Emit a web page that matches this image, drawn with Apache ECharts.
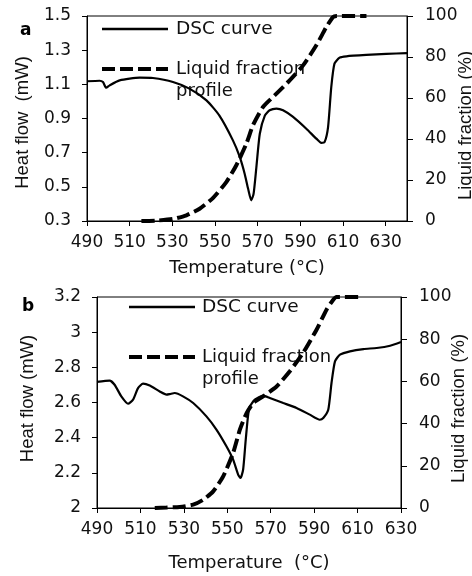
<!DOCTYPE html>
<html>
<head>
<meta charset="utf-8">
<script src="https://cdn.jsdelivr.net/npm/echarts@6/dist/echarts.min.js"></script>
<style>
  html, body { margin: 0; padding: 0; background: #fff; }
  #chart { width: 472px; height: 576px; }
</style>
</head>
<body>
<div id="chart"></div>
<script>
// ---------- Panel a ----------
const dscA_T  = [490, 495.9, 497.5, 499, 500.6, 505.3, 514.7, 520.9, 530.3, 538, 546, 552, 558.4, 561.6, 563.9, 565.5, 567, 568.1, 569.4, 571, 573.4, 575.6, 578.8, 581.9, 586.6, 592.8, 597.5, 599.8, 601.4, 603, 604.5, 606, 608.4, 611.6, 620.9, 630.3, 640];
const dscA_HF = [1.118, 1.121, 1.113, 1.08, 1.094, 1.123, 1.139, 1.137, 1.114, 1.075, 1.006, 0.918, 0.772, 0.675, 0.577, 0.49, 0.421, 0.46, 0.616, 0.811, 0.918, 0.948, 0.958, 0.948, 0.909, 0.84, 0.782, 0.757, 0.763, 0.85, 1.084, 1.221, 1.256, 1.264, 1.272, 1.278, 1.283];
const lfA_T   = [515.5, 522.5, 530.3, 536.6, 542.8, 549, 555.3, 560, 564.7, 567.8, 572.5, 578.8, 585, 591.3, 597.5, 602.2, 605.3, 607, 621];
const lfA_P   = [0, 0.2, 1, 2.8, 6, 11.2, 19, 27.2, 37.7, 46.7, 55.6, 62.1, 68.6, 75.9, 85.7, 94.6, 99.5, 100, 100];
const xTicksA  = [490, 510, 530, 550, 570, 590, 610, 630];
const yTicksA  = [0.3, 0.5, 0.7, 0.9, 1.1, 1.3, 1.5];

// ---------- Panel b ----------
const dscB_T  = [490, 495.8, 498.1, 501.2, 504.3, 506.6, 508.9, 511.2, 514.3, 518.9, 522, 523.5, 525.8, 529.6, 534.3, 540.4, 545, 549.6, 552.7, 555, 556.1, 557.3, 558.5, 560.1, 562.7, 566.5, 569.6, 575.8, 581.9, 588, 592.6, 594.2, 596.5, 598, 599.6, 601.9, 606.5, 612.7, 618.8, 625, 630];
const dscB_HF = [2.717, 2.724, 2.701, 2.635, 2.593, 2.616, 2.682, 2.707, 2.696, 2.663, 2.645, 2.648, 2.654, 2.635, 2.597, 2.521, 2.446, 2.351, 2.275, 2.19, 2.171, 2.219, 2.389, 2.569, 2.616, 2.639, 2.626, 2.597, 2.569, 2.531, 2.502, 2.512, 2.559, 2.711, 2.834, 2.872, 2.891, 2.904, 2.91, 2.923, 2.944];
const lfB_T   = [516.6, 522, 528.1, 534.3, 538.9, 543.5, 548.1, 552.7, 555.8, 558.9, 562, 566.5, 572.7, 578.8, 584.9, 591.1, 595.7, 598.8, 600.3, 611.1];
const lfB_P   = [0, 0.2, 0.5, 1.6, 3.9, 7.9, 15, 26.1, 37.1, 45, 49.8, 52.9, 57.6, 64.8, 73.5, 84.5, 94, 98.7, 100, 100];
const xTicksB  = [490, 510, 530, 550, 570, 590, 610, 630];
const yTicksB  = [2, 2.2, 2.4, 2.6, 2.8, 3, 3.2];

const rightTicks = [0, 20, 40, 60, 80, 100];

const legendSolid = 'DSC curve';
const legendDashed = 'Liquid fraction\nprofile';

const zip = (a, b) => a.map((v, i) => [v, b[i]]);

const HFONT = 'DejaVu Sans';
const VFONT = 'Liberation Sans';
const INK = '#111';

function xAxis(gridIndex, min, max, ticks, name, gap) {
  return {
    type: 'value', gridIndex, min, max, name, nameLocation: 'middle', nameGap: gap, nameMoveOverlap: false,
    nameTextStyle: { fontFamily: HFONT, fontSize: 18, color: INK },
    axisLine: { show: true, lineStyle: { color: '#000', width: 1 } },
    axisTick: { show: true, inside: false, length: 5, lineStyle: { color: '#000' }, customValues: ticks },
    axisLabel: { fontFamily: HFONT, fontSize: 17, color: INK, margin: 13, customValues: ticks },
    splitLine: { show: false }
  };
}
function yLeft(gridIndex, min, max, ticks, name, gap, pad) {
  return {
    type: 'value', gridIndex, position: 'left', min, max, name, nameLocation: 'middle', nameGap: gap, nameMoveOverlap: false,
    nameTextStyle: { fontFamily: VFONT, fontSize: 18.5, color: INK, padding: pad },
    axisLine: { show: true, lineStyle: { color: '#000', width: 1 } },
    axisTick: { show: true, inside: false, length: 5, lineStyle: { color: '#000' }, customValues: ticks },
    axisLabel: { fontFamily: HFONT, fontSize: 17, color: INK, margin: 16, customValues: ticks },
    splitLine: { show: false }
  };
}
function yRight(gridIndex, name, gap, pad) {
  return {
    type: 'value', gridIndex, position: 'right', min: 0, max: 100, name, nameLocation: 'middle', nameGap: gap,
    nameRotate: 90, nameMoveOverlap: false,
    nameTextStyle: { fontFamily: VFONT, fontSize: 18.5, color: INK, padding: pad },
    axisLine: { show: true, lineStyle: { color: '#000', width: 1 } },
    axisTick: { show: true, inside: false, length: 6, lineStyle: { color: '#000' }, customValues: rightTicks },
    axisLabel: { fontFamily: HFONT, fontSize: 17, color: INK, margin: 18, customValues: rightTicks },
    splitLine: { show: false }
  };
}

function legendGraphics(x1, x2, ySolid, yDashed, textX) {
  return [
    { type: 'line', z: 1, shape: { x1, y1: ySolid, x2, y2: ySolid }, style: { stroke: '#000', lineWidth: 2.5 } },
    { type: 'text', z: 1, x: textX, y: ySolid, style: { text: legendSolid, fontFamily: HFONT, fontSize: 18.5, fill: INK, verticalAlign: 'middle' } },
    { type: 'line', z: 1, shape: { x1, y1: yDashed, x2, y2: yDashed }, style: { stroke: '#000', lineWidth: 4, lineDash: [13, 5] } },
    { type: 'text', z: 1, x: textX, y: yDashed - 11, style: { text: legendDashed, fontFamily: HFONT, fontSize: 18, lineHeight: 22, fill: INK, verticalAlign: 'top' } }
  ];
}

const chart = echarts.init(document.getElementById('chart'), null, { renderer: 'canvas' });
chart.setOption({
  backgroundColor: '#fff',
  animation: false,
  grid: [
    { left: 87, right: 65, top: 16, height: 205, outerBoundsMode: 'none', containLabel: false, show: true, borderColor: '#000', borderWidth: 1, backgroundColor: 'transparent' },
    { left: 97, right: 71, top: 297, height: 211, outerBoundsMode: 'none', containLabel: false, show: true, borderColor: '#000', borderWidth: 1, backgroundColor: 'transparent' }
  ],
  xAxis: [
    xAxis(0, 490, 640, xTicksA, 'Temperature (°C)', 38),
    xAxis(1, 490, 630, xTicksB, 'Temperature  (°C)', 46)
  ],
  yAxis: [
    yLeft(0, 0.3, 1.5, yTicksA, 'Heat flow  (mW)', 55, [0, 8, 0, 0]),
    yRight(0, 'Liquid fraction (%)', 49, [0, 14, 0, 0]),
    yLeft(1, 2, 3.2, yTicksB, 'Heat flow (mW)', 60, [0, 0, 0, 8]),
    yRight(1, 'Liquid fraction (%)', 48, [0, 12, 0, 0])
  ],
  series: [
    { type: 'line', xAxisIndex: 0, yAxisIndex: 0, data: zip(dscA_T, dscA_HF), showSymbol: false, smooth: 0.2,
      lineStyle: { color: '#000', width: 2.2 }, z: 3 },
    { type: 'line', xAxisIndex: 0, yAxisIndex: 1, data: zip(lfA_T, lfA_P), showSymbol: false, smooth: 0.2,
      lineStyle: { color: '#000', width: 4, type: [13, 5] }, z: 4 },
    { type: 'line', xAxisIndex: 1, yAxisIndex: 2, data: zip(dscB_T, dscB_HF), showSymbol: false, smooth: 0.2,
      lineStyle: { color: '#000', width: 2.2 }, z: 3 },
    { type: 'line', xAxisIndex: 1, yAxisIndex: 3, data: zip(lfB_T, lfB_P), showSymbol: false, smooth: 0.2,
      lineStyle: { color: '#000', width: 4, type: [13, 5] }, z: 4 }
  ],
  graphic: [
    { type: 'text', x: 20, y: 31, style: { text: 'a', fontFamily: HFONT, fontWeight: 'bold', fontSize: 17, fill: '#000', verticalAlign: 'middle' } },
    { type: 'text', x: 22, y: 307, style: { text: 'b', fontFamily: HFONT, fontWeight: 'bold', fontSize: 17, fill: '#000', verticalAlign: 'middle' } },
    ...legendGraphics(102, 168, 29, 69, 176),
    ...legendGraphics(129, 195, 307, 357, 202)
  ]
});
</script>
</body>
</html>
